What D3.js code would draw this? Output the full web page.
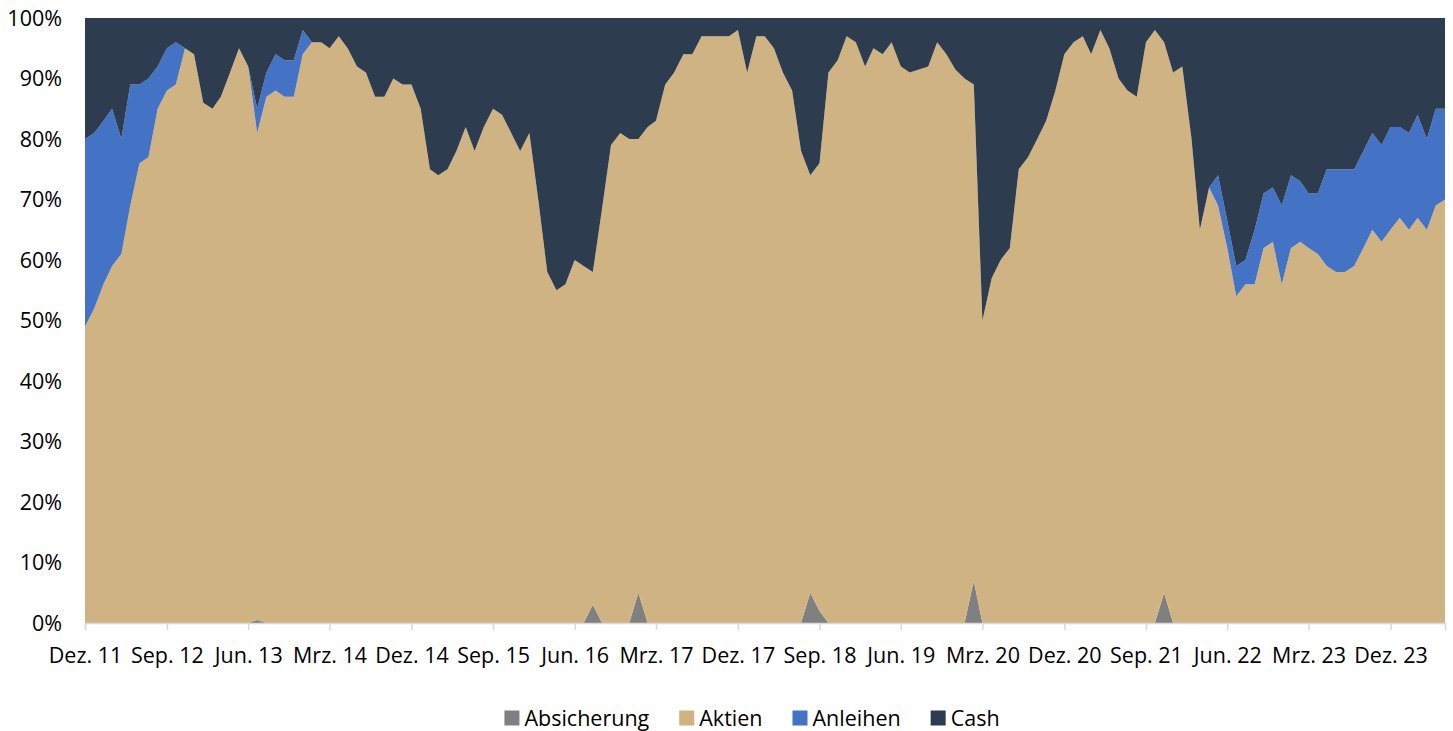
<!DOCTYPE html>
<html>
<head>
<meta charset="utf-8">
<script src="https://cdn.jsdelivr.net/npm/d3@7"></script>
<style>
  body { margin: 0; background: #fff; }
  svg text { font-family: "Open Sans", "Noto Sans", sans-serif; fill: #000; }
</style>
</head>
<body>
<div id="chart"></div>
<script>
var W = 1453, H = 731,
    m = {t: 18, r: 8, b: 108, l: 85};

// monthly values Dez. 11 .. Jun. 24, in % of portfolio
var absicherung = [
  0,0,0,0,0,0,0,0,0,0, 0,0,0,0,0,0,0,0,0,0.5, 0,0,0,0,0,0,0,0,0,0,
  0,0,0,0,0,0,0,0,0,0, 0,0,0,0,0,0,0,0,0,0, 0,0,0,0,0,0,3,0,0,0,
  0,5,0,0,0,0,0,0,0,0, 0,0,0,0,0,0,0,0,0,0, 5,2,0,0,0,0,0,0,0,0,
  0,0,0,0,0,0,0,0,7,0, 0,0,0,0,0,0,0,0,0,0, 0,0,0,0,0,0,0,0,0,5,
  0,0,0,0,0,0,0,0,0,0, 0,0,0,0,0,0,0,0,0,0, 0,0,0,0,0,0,0,0,0,0, 0
];
var aktien = [
  49,52,56,59,61,69,76,77,85,88, 89,95,94,86,85,87,91,95,92,80.5, 87,88,87,87,94,96,96,95,97,95,
  92,91,87,87,90,89,89,85,75,74, 75,78,82,78,82,85,84,81,78,81, 69.5,58,55,56,60,59,55,68.5,79,81,
  80,75,82,83,89,91,94,94,97,97, 97,97,98,91,97,97,95,91,88,78, 69,74,91,93,97,96,92,95,94,96,
  92,91,91.5,92,96,94,91.5,90,82,50, 57,60,62,75,77,80,83,88,94,96, 97,94,98,95,90,88,87,96,98,91,
  91,92,80,65,72,69,62,54,56,56, 62,63,56,62,63,62,61,59,58,58, 59,62,65,63,65,67,65,67,65,69, 70
];
var anleihen = [
  31,29,27,26,19,20,13,13,7,7, 7,0,0,0,0,0,0,0,0,4, 4,6,6,6,4,0,0,0,0,0,
  0,0,0,0,0,0,0,0,0,0, 0,0,0,0,0,0,0,0,0,0, 0,0,0,0,0,0,0,0,0,0,
  0,0,0,0,0,0,0,0,0,0, 0,0,0,0,0,0,0,0,0,0, 0,0,0,0,0,0,0,0,0,0,
  0,0,0,0,0,0,0,0,0,0, 0,0,0,0,0,0,0,0,0,0, 0,0,0,0,0,0,0,0,0,0,
  0,0,0,0,0,5,4.5,5,4,9, 9,9,13,12,10,9,10,16,17,17, 16,16,16,16,17,15,16,17,15,16, 15
];
var cash = [
  20,19,17,15,20,11,11,10,8,5, 4,5,6,14,15,13,9,5,8,15, 9,6,7,7,2,4,4,5,3,5,
  8,9,13,13,10,11,11,15,25,26, 25,22,18,22,18,15,16,19,22,19, 30.5,42,45,44,40,41,42,31.5,21,19,
  20,20,18,17,11,9,6,6,3,3, 3,3,2,9,3,3,5,9,12,22, 26,24,9,7,3,4,8,5,6,4,
  8,9,8.5,8,4,6,8.5,10,11,50, 43,40,38,25,23,20,17,12,6,4, 3,6,2,5,10,12,13,4,2,4,
  9,8,20,35,28,26,33.5,41,40,35, 29,28,31,26,27,29,29,25,25,25, 25,22,19,21,18,18,19,16,20,15, 15
];

var keys = ["Absicherung", "Aktien", "Anleihen", "Cash"],
    colors = ["#808080", "#CFB382", "#4472C4", "#2D3C4F"],
    monthNames = ["Jan.","Feb.","Mrz.","Apr.","Mai","Jun.","Jul.","Aug.","Sep.","Okt.","Nov.","Dez."],
    yTicks = [0,10,20,30,40,50,60,70,80,90,100];

var months = d3.timeMonth.range(new Date(2011, 11, 1), new Date(2024, 6, 1));

var rows = months.map(function(d, i){
  return {date: d, Absicherung: absicherung[i], Aktien: aktien[i], Anleihen: anleihen[i], Cash: cash[i]};
});

var svg = d3.select("#chart").append("svg")
    .attr("width", W)
    .attr("height", H);

var x = d3.scaleTime()
    .domain([months[0], months[months.length - 1]])
    .range([m.l, W - m.r]);

var y = d3.scaleLinear()
    .domain([0, 100])
    .range([H - m.b, m.t]);

// gridlines (only the 100% one shows above the areas)
svg.append("g")
  .selectAll("line")
  .data(yTicks)
  .enter().append("line")
    .attr("x1", m.l).attr("x2", W - m.r)
    .attr("y1", function(d){ return y(d) + 0.5; })
    .attr("y2", function(d){ return y(d) + 0.5; })
    .attr("stroke", "#d9d9d9")
    .attr("stroke-width", 1);

var series = d3.stack().keys(keys)(rows);

var area = d3.area()
    .x(function(d){ return x(d.data.date); })
    .y0(function(d){ return y(d[0]); })
    .y1(function(d){ return y(d[1]); });

svg.append("g")
  .selectAll("path")
  .data(series)
  .enter().append("path")
    .attr("fill", function(d, i){ return colors[i]; })
    .attr("d", area);

// x axis, a label every 9 months
var xTickVals = months.filter(function(d, i){ return i % 9 === 0; });

var xAxis = svg.append("g")
    .attr("transform", "translate(0," + y(0) + ")")
    .call(d3.axisBottom(x)
      .tickValues(xTickVals)
      .tickSize(7)
      .tickPadding(18)
      .tickFormat(function(d){ return monthNames[d.getMonth()] + " " + String(d.getFullYear()).slice(2); }));

xAxis.select(".domain").attr("stroke", "#d9d9d9").attr("stroke-width", 1.5);
xAxis.selectAll(".tick line").attr("stroke", "#d9d9d9").attr("stroke-width", 1.5);
xAxis.selectAll("text").attr("font-size", "21.5px").attr("fill", "#000");

// y labels
svg.append("g")
  .selectAll("text")
  .data(yTicks)
  .enter().append("text")
    .attr("x", 62)
    .attr("y", function(d){ return y(d); })
    .attr("dy", "0.35em")
    .attr("text-anchor", "end")
    .attr("font-size", "21.5px")
    .text(function(d){ return d + "%"; });

// legend
var legend = svg.append("g").attr("class", "legend");
var items = legend.selectAll("g")
    .data(keys)
    .enter().append("g");

items.append("rect")
    .attr("width", 15).attr("height", 15)
    .attr("y", -7.5)
    .attr("fill", function(d, i){ return colors[i]; });

items.append("text")
    .attr("x", 20)
    .attr("dy", "0.35em")
    .attr("font-size", "21.5px")
    .text(function(d){ return d; });

var xpos = 0;
items.each(function(){
  var g = d3.select(this),
      w = 20 + g.select("text").node().getComputedTextLength();
  g.attr("transform", "translate(" + xpos + ",0)");
  xpos += w + 30;
});
var legendW = xpos - 30;
legend.attr("transform", "translate(" + (752 - legendW / 2) + ",718)");
</script>
</body>
</html>
